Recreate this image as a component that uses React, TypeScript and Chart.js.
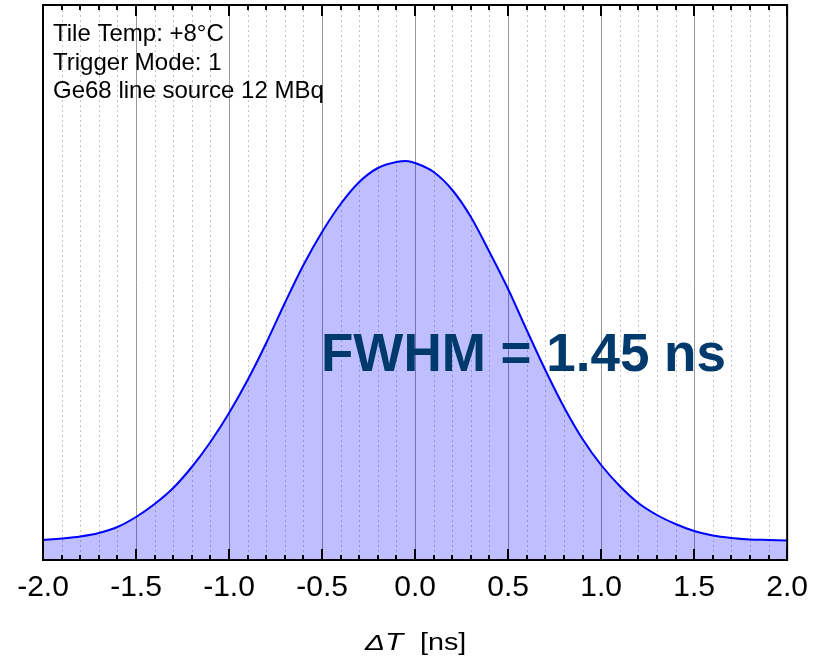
import React, { useEffect, useRef } from "react";
import { Chart, registerables } from "chart.js";

Chart.register(...registerables);

// ΔT values (ns) and measured counts (arbitrary units)
const deltaT = [
  -2.0, -1.9, -1.8, -1.7, -1.6, -1.5, -1.4, -1.3, -1.2, -1.1, -1.0,
  -0.9, -0.8, -0.7, -0.6, -0.5, -0.4, -0.3, -0.2, -0.1, -0.05, 0.0,
  0.1, 0.2, 0.3, 0.4, 0.5, 0.6, 0.7, 0.8, 0.9, 1.0,
  1.1, 1.2, 1.3, 1.4, 1.5, 1.6, 1.7, 1.8, 1.9, 2.0,
];
const counts = [
  20, 21.5, 23.5, 27, 33, 43, 56, 72, 93, 118, 147,
  180, 217, 257, 295, 328, 356, 378, 392, 398, 399, 397,
  388, 370, 343, 308, 271, 230, 190, 153, 121, 95,
  74, 57, 45, 36, 29, 24.5, 22, 20.5, 20, 19.5,
];
const xTicks = [-2.0, -1.5, -1.0, -0.5, 0.0, 0.5, 1.0, 1.5, 2.0];
const infoLines = ["Tile Temp: +8°C", "Trigger Mode: 1", "Ge68 line source 12 MBq"];
const fwhmLabel = "FWHM = 1.45 ns";

const FONT = "'Liberation Sans', Arial, Helvetica, sans-serif";

const decorPlugin = {
  id: "decor",
  beforeDatasetsDraw(chart: any) {
    const { ctx, chartArea } = chart;
    const xs = chart.scales.x;
    const { top, bottom } = chartArea;
    ctx.save();
    // minor dotted grid
    ctx.strokeStyle = "#c4c4c4";
    ctx.lineWidth = 1;
    ctx.setLineDash([2, 3]);
    for (let i = -20; i <= 20; i++) {
      if (i % 5 === 0) continue;
      const px = Math.round(xs.getPixelForValue(i / 10)) + 0.5;
      ctx.beginPath();
      ctx.moveTo(px, top);
      ctx.lineTo(px, bottom);
      ctx.stroke();
    }
    ctx.setLineDash([]);
    ctx.strokeStyle = "#9a9a9a";
    xTicks.forEach((v) => {
      const px = Math.round(xs.getPixelForValue(v)) + 0.5;
      ctx.beginPath();
      ctx.moveTo(px, top);
      ctx.lineTo(px, bottom);
      ctx.stroke();
    });
    ctx.restore();
  },
  afterDatasetsDraw(chart: any) {
    const { ctx, chartArea } = chart;
    const xs = chart.scales.x;
    const { left, right, top, bottom } = chartArea;
    ctx.save();
    // ticks
    ctx.strokeStyle = "#000";
    ctx.lineWidth = 2;
    for (let i = -20; i <= 20; i++) {
      const major = i % 5 === 0;
      const len = major ? 11 : 5;
      const px = Math.round(xs.getPixelForValue(i / 10));
      ctx.beginPath();
      ctx.moveTo(px, bottom);
      ctx.lineTo(px, bottom - len);
      ctx.moveTo(px, top);
      ctx.lineTo(px, top + len);
      ctx.stroke();
    }
    // frame
    ctx.lineWidth = 2;
    ctx.strokeRect(left, top, right - left, bottom - top);

    // info text
    ctx.fillStyle = "#000";
    ctx.font = `24px ${FONT}`;
    ctx.textAlign = "left";
    ctx.textBaseline = "alphabetic";
    infoLines.forEach((t, i) => {
      ctx.fillText(t, left + 10, 41 + i * 28.7);
    });

    // FWHM label
    ctx.fillStyle = "#003A6C";
    ctx.font = `bold 53px ${FONT}`;
    ctx.fillText(fwhmLabel, 321, 371);

    // axis title (slightly widened glyphs, as in the reference)
    ctx.fillStyle = "#000";
    ctx.save();
    ctx.translate(365, 650);
    ctx.scale(1.3, 1);
    ctx.font = `italic 23px ${FONT}`;
    ctx.fillText("\u0394T", 0, 0);
    ctx.restore();
    ctx.save();
    ctx.translate(420, 650);
    ctx.scale(1.25, 1);
    ctx.font = `23px ${FONT}`;
    ctx.fillText("[ns]", 0, 0);
    ctx.restore();
    ctx.restore();
  },
};

export default function App() {
  const ref = useRef<HTMLCanvasElement | null>(null);
  useEffect(() => {
    if (!ref.current) return;
    const data = deltaT.map((x, i) => ({ x, y: counts[i] }));
    const chart = new Chart(ref.current, {
      type: "line",
      data: {
        datasets: [
          {
            data,
            borderColor: "#0000FF",
            borderWidth: 2,
            backgroundColor: "rgba(0,0,255,0.25)",
            fill: "origin",
            pointRadius: 0,
            cubicInterpolationMode: "monotone",
          },
        ],
      },
      options: {
        responsive: false,
        animation: false,
        layout: { padding: { left: 43, right: 29, top: 5, bottom: 0 } },
        plugins: { legend: { display: false }, tooltip: { enabled: false } },
        scales: {
          x: {
            type: "linear",
            min: -2,
            max: 2,
            afterBuildTicks: (scale: any) => {
              scale.ticks = xTicks.map((v) => ({ value: v }));
            },
            afterFit: (scale: any) => {
              scale.height = 97;
            },
            grid: { display: false, drawTicks: false },
            border: { display: false },
            ticks: {
              color: "#000",
              padding: 10,
              maxRotation: 0,
              font: { family: FONT, size: 30 },
              callback: (v: any) => Number(v).toFixed(1),
            },
          },
          y: {
            display: false,
            min: 0,
            max: 555,
          },
        },
      },
      plugins: [decorPlugin],
    });
    return () => chart.destroy();
  }, []);
  return (
    <div style={{ position: "absolute", left: 0, top: 0, width: 818, height: 657, background: "#fff" }}>
      <canvas ref={ref} width={818} height={657} style={{ width: 818, height: 657 }} />
    </div>
  );
}
